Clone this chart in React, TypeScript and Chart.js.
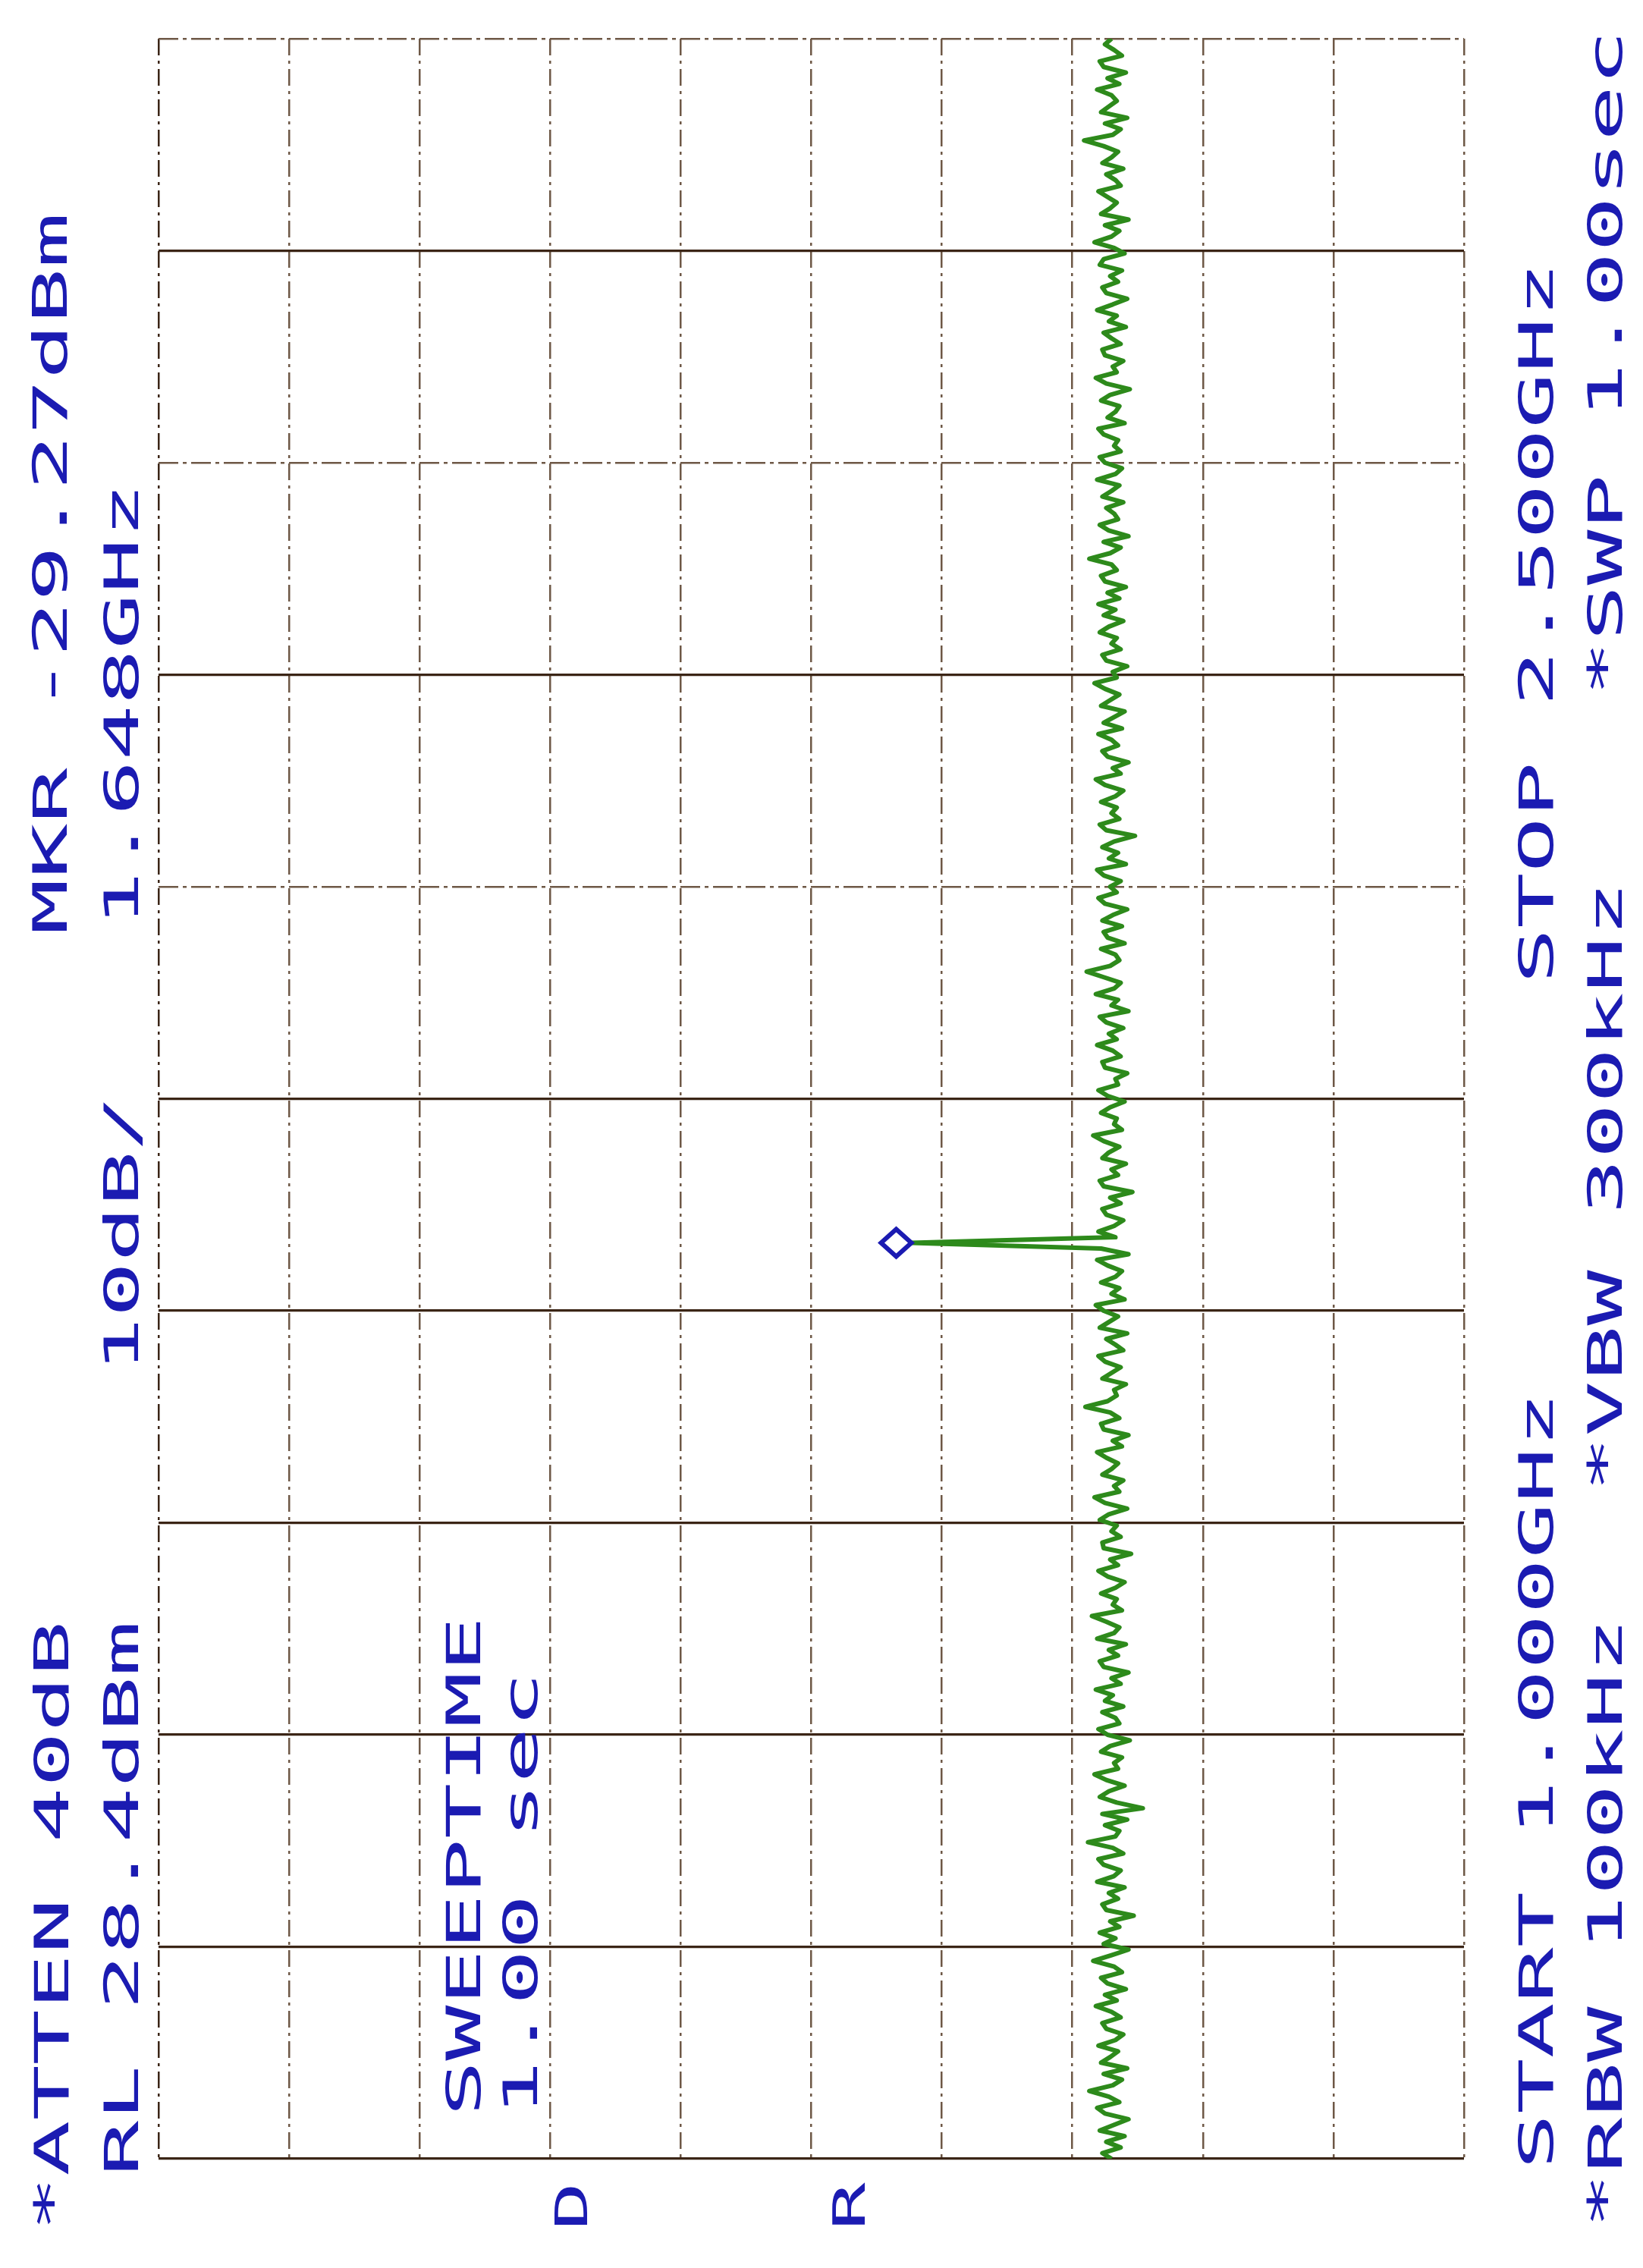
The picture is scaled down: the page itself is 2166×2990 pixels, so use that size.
import React, { useEffect, useRef } from "react";
import { Chart, registerables } from "chart.js";

Chart.register(...registerables);

// ---- instrument settings ----
const START_GHZ = 1.0;
const STOP_GHZ = 2.5;
const REF_LEVEL_DBM = 28.4;
const DB_PER_DIV = 10;
const AMP_DIVS = 10;
const FREQ_DIVS = 10;
const MARKER_GHZ = 1.648;
const MARKER_DBM = -29.27;

// ---- annotation texts ----
const TXT_ATTEN = "*ATTEN 40dB";
const TXT_RL = "RL 28.4dBm";
const TXT_SWEEP1 = "SWEEPTIME";
const TXT_SWEEP2 = "1.00 sec";
const TXT_MKR1 = "MKR -29.27dBm";
const TXT_MKR2 = "1.648GHz";
const TXT_SCALE = "10dB/";
const TXT_START = "START 1.000GHz";
const TXT_STOP = "STOP 2.500GHz";
const TXT_RBW = "*RBW 100kHz";
const TXT_VBW = "*VBW 300kHz";
const TXT_SWP = "*SWP 1.00sec";
const TXT_D = "D";
const TXT_R = "R";

// ---- trace (dBm), one value per sweep point, 1.000 -> 2.500 GHz ----
const traceDbm: number[] = [
  -44.6, -43.9, -45.3, -44.2, -45.6, -43.7, -44.8, -45.9, -44.1, -43.5, -45.2, -44.4, -42.9, -44.7, -45.4, -44.0, -45.8, -43.8, -44.5, -45.1, -43.6, -44.9, -45.5, -44.2, -43.9,
  -45.3, -44.6, -43.4, -45.0, -44.1, -45.7, -44.3, -43.8, -45.4, -44.8, -43.2, -44.6, -45.9, -44.0, -44.9, -43.7, -45.2, -44.5, -46.3, -44.2, -43.9, -45.1, -44.4, -45.6, -43.5,
  -44.8, -45.3, -44.0, -43.6, -45.5, -44.7, -42.8, -44.9, -45.2, -44.1, -45.8, -43.9, -47.0, -45.0, -43.7, -44.4, -45.6, -44.2, -43.3, -45.1, -44.8, -45.4, -43.8, -44.5, -46.0,
  -44.3, -43.6, -45.2, -44.9, -43.9, -45.5, -44.1, -44.7, -43.4, -45.3, -44.6, -45.9, -44.0, -43.7, -45.1, -44.4, -45.7, -43.5, -44.8, -45.2, -44.2, -43.1, -45.4, -44.7, -45.0,
  -43.8, -44.9, -45.6, -44.3, -43.6, -45.1, -44.5, -46.1, -44.0, -43.9, -45.3, -44.6, -45.0, -43.7, -44.4, -45.8, -44.1, -43.3, -45.2, -44.8, -45.5, -43.9, -44.6, -45.1, -44.2,
  -43.5, -45.4, -44.7, -45.9, -44.0, -43.8, -45.2, -44.5, -42.6, -44.3, -45.0, -44.8, -45.7, -43.9, -44.6, -45.3, -44.1, -43.6, -45.5, -44.9, -44.2, -45.8, -43.7, -44.4, -45.1,
  -44.0, -43.4, -45.6, -44.6, -45.2, -43.8, -44.9, -45.4, -44.3, -43.5, -45.9, -43.8, -29.27, -44.9, -43.6, -44.8, -45.5, -44.2, -43.9, -45.3, -44.5, -46.2, -44.0, -43.7, -45.1,
  -44.6, -45.7, -43.9, -44.4, -45.2, -44.0, -43.2, -45.4, -44.8, -45.0, -43.8, -44.5, -45.6, -44.3, -43.6, -45.1, -44.9, -45.8, -44.1, -43.9, -45.3, -44.7, -43.5, -45.0, -44.4,
  -45.5, -44.2, -43.7, -45.9, -44.6, -45.1, -43.4, -44.8, -45.3, -44.0, -42.7, -44.5, -45.2, -44.9, -43.8, -45.6, -44.3, -44.0, -45.4, -43.9, -44.7, -45.8, -44.1, -43.6, -45.0,
  -44.5, -45.3, -44.0, -43.5, -45.7, -44.4, -45.1, -43.9, -44.8, -46.4, -44.2, -43.7, -45.2, -44.6, -45.0, -43.8, -44.9, -45.5, -44.1, -43.4, -45.3, -44.7, -45.9, -44.3, -43.9,
  -45.1, -44.6, -43.6, -45.4, -44.0, -44.8, -45.6, -43.8, -44.5, -45.2, -44.1, -43.3, -45.0, -44.7, -45.8, -44.2, -43.9, -45.3, -44.6, -45.0, -43.7, -44.4, -45.5, -44.0, -44.9,
  -43.6, -45.2, -44.3, -45.7, -44.1, -43.8, -45.0, -44.6, -42.9, -44.5, -45.3, -44.0, -45.9, -44.4, -43.7, -45.1, -44.8, -44.2, -45.5, -43.9, -44.6, -45.2, -43.5, -44.9, -45.4,
  -44.1, -43.7, -45.3, -44.8, -45.1, -44.0, -43.6, -45.6, -44.3, -44.9, -45.2, -43.8, -44.5, -46.0, -44.2, -43.4, -45.0, -44.7, -45.5, -44.1, -43.9, -45.3, -44.6, -44.0, -45.7,
  -44.4, -45.0, -43.5, -44.7, -45.8, -44.2, -43.9, -45.1, -44.5, -45.4, -43.7, -44.0, -45.6, -44.8, -43.3, -44.6, -45.2, -44.1, -45.9, -43.8, -44.5, -45.0, -44.3, -43.6, -45.3,
  -44.9, -44.2, -45.5, -43.9, -44.6, -45.1, -44.0, -42.5, -44.7, -45.3, -44.1, -45.8, -43.8, -44.4, -45.0, -44.6, -43.5, -45.2, -44.3, -45.7, -44.0, -43.7, -45.4, -44.8, -44.1,
  -44.6,
];

const TRACE_GREEN = "#2d8a1b";
const TEXT_BLUE = "#1b1bb2";
const GRID_DARK = "#3b2516";
const GRID_LIGHT = "#6e5846";

function vText(
  ctx: CanvasRenderingContext2D,
  text: string,
  baseX: number,
  startY: number,
  size = 63,
  stretch = 1.93
) {
  ctx.save();
  ctx.translate(baseX, startY);
  ctx.rotate(-Math.PI / 2);
  ctx.scale(stretch, 1);
  ctx.font = `${size}px "DejaVu Sans Mono"`;
  ctx.fillStyle = TEXT_BLUE;
  ctx.textAlign = "left";
  ctx.textBaseline = "alphabetic";
  ctx.fillText(text, 0, 0);
  ctx.restore();
}

const annotationPlugin = {
  id: "annotations",
  beforeDraw(chart: any) {
    const { ctx, width, height } = chart;
    ctx.save();
    ctx.fillStyle = "#ffffff";
    ctx.fillRect(0, 0, width, height);
    ctx.restore();
  },
  afterDatasetsDraw(chart: any) {
    const { ctx, scales } = chart;
    const px = scales.x.getPixelForValue(MARKER_DBM);
    const py = scales.y.getPixelForValue(MARKER_GHZ);
    const hw = 20;
    const hh = 18;
    const cx = px - hw;
    ctx.save();
    ctx.beginPath();
    ctx.moveTo(cx + hw, py);
    ctx.lineTo(cx, py - hh);
    ctx.lineTo(cx - hw, py);
    ctx.lineTo(cx, py + hh);
    ctx.closePath();
    ctx.fillStyle = "#ffffff";
    ctx.fill();
    ctx.lineWidth = 6;
    ctx.strokeStyle = TEXT_BLUE;
    ctx.lineJoin = "miter";
    ctx.stroke();
    ctx.restore();
  },
  afterDraw(chart: any) {
    const ctx = chart.ctx as CanvasRenderingContext2D;
    vText(ctx, TXT_ATTEN, 90, 2942);
    vText(ctx, TXT_RL, 182, 2869);
    vText(ctx, TXT_SWEEP1, 633, 2790);
    vText(ctx, TXT_SWEEP2, 708, 2790);
    vText(ctx, TXT_MKR1, 88, 1232);
    vText(ctx, TXT_MKR2, 182, 1222);
    vText(ctx, TXT_SCALE, 182, 1810);
    vText(ctx, TXT_START, 2047, 2860);
    vText(ctx, TXT_STOP, 2047, 1297);
    vText(ctx, TXT_RBW, 2138, 2938);
    vText(ctx, TXT_VBW, 2138, 1967);
    vText(ctx, TXT_SWP, 2138, 918);
    vText(ctx, TXT_D, 774, 2940, 58, 1.8);
    vText(ctx, TXT_R, 1140, 2940, 58, 1.8);
  },
};

export default function App() {
  const canvasRef = useRef<HTMLCanvasElement | null>(null);

  useEffect(() => {
    document.body.style.margin = "0";
    const canvas = canvasRef.current;
    if (!canvas) return;

    const step = (STOP_GHZ - START_GHZ) / (traceDbm.length - 1);
    const points = traceDbm.map((v, i) => ({ x: v, y: START_GHZ + i * step }));

    const ampTicks: number[] = [];
    for (let k = AMP_DIVS; k >= 0; k--) ampTicks.push(REF_LEVEL_DBM - k * DB_PER_DIV);
    const freqTicks: number[] = [];
    for (let k = 0; k <= FREQ_DIVS; k++)
      freqTicks.push(START_GHZ + ((STOP_GHZ - START_GHZ) * k) / FREQ_DIVS);

    const lightFreqLines = new Set([6, 8, 10]);

    const chart = new Chart(canvas, {
      type: "scatter",
      data: {
        datasets: [
          {
            data: points,
            showLine: true,
            borderColor: TRACE_GREEN,
            borderWidth: 6,
            pointRadius: 0,
            tension: 0,
            borderJoinStyle: "round",
          },
        ],
      },
      options: {
        responsive: false,
        animation: false,
        events: [],
        layout: { padding: { left: 209, top: 51, right: 236, bottom: 144 } },
        plugins: { legend: { display: false }, tooltip: { enabled: false } },
        scales: {
          x: {
            type: "linear",
            reverse: true,
            min: REF_LEVEL_DBM - AMP_DIVS * DB_PER_DIV,
            max: REF_LEVEL_DBM,
            afterBuildTicks: (scale: any) => {
              scale.ticks = ampTicks.map((v) => ({ value: v }));
            },
            ticks: { display: false },
            grid: {
              drawTicks: false,
              color: (c: any) =>
                c.tick && Math.abs(c.tick.value - REF_LEVEL_DBM) < 1e-6 ? GRID_DARK : GRID_LIGHT,
              lineWidth: 2.5,
            },
            border: { display: false, dash: [22, 7, 4, 7] },
          },
          y: {
            type: "linear",
            min: START_GHZ,
            max: STOP_GHZ,
            afterBuildTicks: (scale: any) => {
              scale.ticks = freqTicks.map((v) => ({ value: v }));
            },
            ticks: { display: false },
            grid: {
              drawTicks: false,
              color: (c: any) => (lightFreqLines.has(c.index) ? GRID_LIGHT : GRID_DARK),
              lineWidth: (c: any) => (lightFreqLines.has(c.index) ? 2.5 : 3.2),
            },
            border: {
              display: false,
              dash: (c: any) => (lightFreqLines.has(c.index) ? [26, 6, 5, 6] : []),
            },
          },
        },
      },
      plugins: [annotationPlugin],
    } as any);

    return () => chart.destroy();
  }, []);

  return (
    <div style={{ position: "absolute", left: 0, top: 0, width: 2166, height: 2990 }}>
      <canvas ref={canvasRef} width={2166} height={2990} style={{ display: "block" }} />
    </div>
  );
}
